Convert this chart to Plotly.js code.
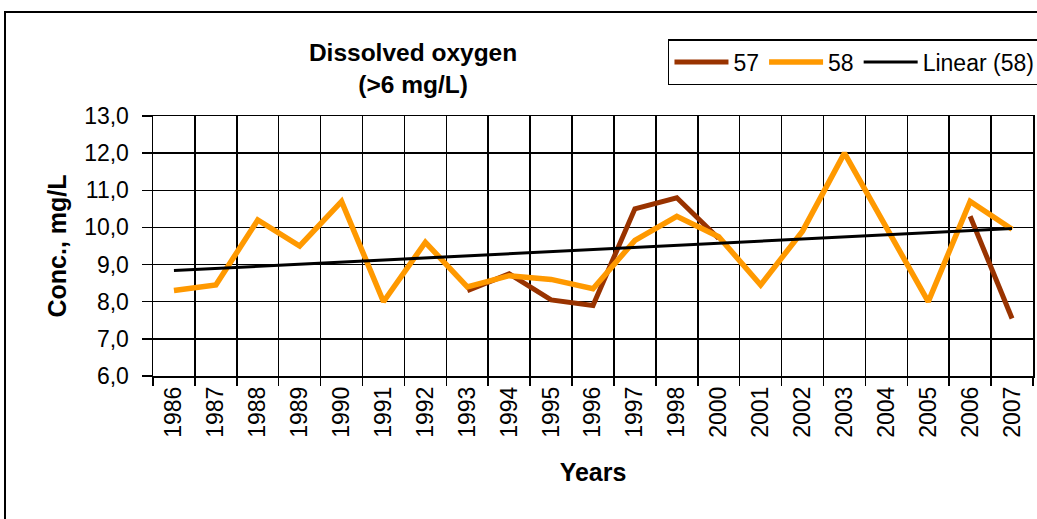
<!DOCTYPE html>
<html>
<head>
<meta charset="utf-8">
<script src="https://cdn.plot.ly/plotly-3.0.1.min.js"></script>
<style>
  html, body { margin: 0; padding: 0; overflow: hidden; background: #fff; }
  #chart { width: 1060px; height: 519px; }
</style>
</head>
<body>
<div id="chart"></div>
<script>
// ---- data ----
const years = ['1986','1987','1988','1989','1990','1991','1992','1993','1994','1995','1996',
               '1997','1998','2000','2001','2002','2003','2004','2005','2006','2007'];
const site58 = [8.3, 8.45, 10.2, 9.5, 10.7, 8.0, 9.6, 8.4, 8.7, 8.6, 8.35,
                9.65, 10.3, 9.75, 8.45, 9.9, 12.0, 10.0, 8.0, 10.7, 9.95];
const site57 = [null, null, null, null, null, null, null, 8.3, 8.75, 8.05, 7.9,
                10.5, 10.8, 9.7, null, null, null, null, null, 10.3, 7.55];
const trendYears = ['1986', '2007'];
const trend58 = [8.84, 9.97];
const seriesNames = ['57', '58', 'Linear (58)'];
const yTicks = [6, 7, 8, 9, 10, 11, 12, 13];

const FONT = 'Liberation Sans, Arial, Helvetica, sans-serif';

const traces = [
  { type: 'scatter', mode: 'lines', name: seriesNames[0], x: years, y: site57,
    connectgaps: false, line: { color: '#993300', width: 5 } },
  { type: 'scatter', mode: 'lines', name: seriesNames[1], x: years, y: site58,
    line: { color: '#FF9900', width: 5.5 } },
  { type: 'scatter', mode: 'lines', name: seriesNames[2], x: trendYears, y: trend58,
    line: { color: '#000000', width: 3 } }
];

const layout = {
  width: 1060, height: 519,
  margin: { l: 153, r: 27, t: 116, b: 143, pad: 0 },
  paper_bgcolor: '#ffffff', plot_bgcolor: '#ffffff',
  separators: ', ',
  font: { family: FONT, color: '#000000', size: 20 },
  showlegend: true,
  title: {
    text: 'Dissolved oxygen<br>(&gt;6 mg/L)',
    font: { family: FONT, size: 24.5, weight: 'bold', color: '#000' },
    xref: 'paper', x: 0.2955, xanchor: 'center',
    yref: 'container', y: 0.882, yanchor: 'middle'
  },
  legend: {
    orientation: 'h', x: 0.5852, xanchor: 'left', y: 1.296, yanchor: 'top',
    bordercolor: '#000', borderwidth: 1.5, bgcolor: '#fff',
    font: { family: FONT, size: 23, color: '#000' },
    itemwidth: 54, traceorder: 'normal'
  },
  xaxis: {
    type: 'category', categoryorder: 'array', categoryarray: years,
    range: [-0.5, years.length - 0.5],
    tickson: 'boundaries', ticks: 'outside', ticklen: 8, tickwidth: 1.5, tickcolor: '#000',
    tickangle: -90, tickfont: { family: FONT, size: 23, color: '#000' },
    showgrid: true, gridcolor: '#000', gridwidth: 1.5,
    showline: true, linecolor: '#000', linewidth: 1.5, mirror: true,
    zeroline: false, fixedrange: true,
    title: { text: 'Years', font: { family: FONT, size: 25, weight: 'bold', color: '#000' }, standoff: 26 }
  },
  yaxis: {
    range: [6, 13], tickvals: yTicks, tickformat: '.1f',
    ticks: 'outside', ticklen: 10, tickwidth: 1.5, tickcolor: '#000',
    ticklabelstandoff: 8,
    tickfont: { family: FONT, size: 23, color: '#000' },
    showgrid: true, gridcolor: '#000', gridwidth: 1.5,
    showline: true, linecolor: '#000', linewidth: 1.5, mirror: true,
    zeroline: false, fixedrange: true,
    title: { text: 'Conc., mg/L', font: { family: FONT, size: 25, weight: 'bold', color: '#000' }, standoff: 10 }
  },
  shapes: [
    { type: 'rect', xref: 'paper', yref: 'paper',
      x0: (5 - 153) / 880, x1: (1058 - 153) / 880,
      y0: (376 - 540) / 260, y1: (376 - 12) / 260,
      line: { color: '#000', width: 2 }, fillcolor: 'rgba(0,0,0,0)', layer: 'below' }
  ]
};

Plotly.newPlot('chart', traces, layout, { displayModeBar: false, staticPlot: true });
</script>
</body>
</html>
